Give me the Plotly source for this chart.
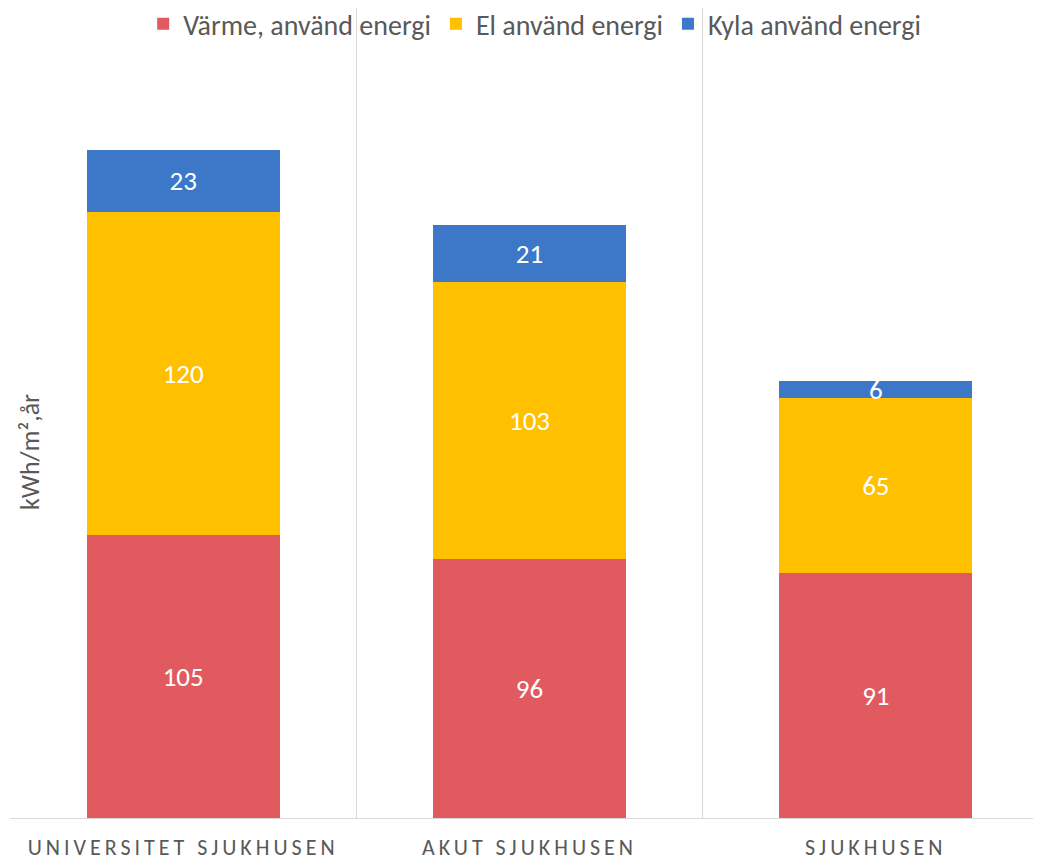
import plotly.graph_objects as go

categories = ["UNIVERSITET SJUKHUSEN", "AKUT SJUKHUSEN", "SJUKHUSEN"]
varme = [105, 96, 91]
el = [120, 103, 65]
kyla = [23, 21, 6]

series = [
    ("Värme, använd energi", varme, "#e15a60"),
    ("El använd energi", el, "#ffc000"),
    ("Kyla använd energi", kyla, "#3d78c8"),
]

font = "Carlito, Lato, sans-serif"
grey = "#595959"

fig = go.Figure()
for name, vals, color in series:
    fig.add_trace(go.Bar(
        x=categories, y=vals, name=name,
        marker=dict(color=color, line=dict(width=0)),
        text=vals, textposition="inside", insidetextanchor="middle",
        constraintext="none", textangle=0,
        textfont=dict(color="white", size=27, family=font),
    ))

tick_text = ['<span style="letter-spacing:4px">%s</span>' % c for c in categories]

# page body has an 8px default margin, so margins are reduced by 8
fig.update_layout(
    barmode="stack",
    bargap=0.443,
    width=1041, height=861,
    margin=dict(l=2, r=0, t=0, b=51, autoexpand=False),
    paper_bgcolor="white", plot_bgcolor="white",
    font=dict(family=font, color=grey),
    uniformtext=dict(minsize=27, mode="show"),
    showlegend=True,
    legend=dict(orientation="h", x=0.505, xanchor="center",
                y=1 + 9 / 810, yanchor="top",
                font=dict(size=28, color=grey), bgcolor="rgba(0,0,0,0)",
                itemwidth=30, traceorder="normal"),
    xaxis=dict(
        type="category", range=[-0.5, 2.5], tickson="boundaries",
        showgrid=True, gridcolor="#d9d9d9", gridwidth=1,
        showline=True, linecolor="#d9d9d9", linewidth=1,
        ticks="outside", ticklen=30, tickcolor="rgba(0,0,0,0)",
        ticklabelstandoff=10,
        tickvals=categories, ticktext=tick_text,
        tickfont=dict(size=22, color=grey),
    ),
    yaxis=dict(range=[0, 300.5], showgrid=False, showticklabels=False,
               zeroline=False, showline=False),
    annotations=[dict(
        text="kWh/m²,år", textangle=-90,
        xref="paper", yref="paper", x=20 / 1039, y=(818 - 452) / 810,
        xanchor="center", yanchor="middle", showarrow=False,
        font=dict(size=26, color=grey),
    )],
)

fig.write_html("out.html")
